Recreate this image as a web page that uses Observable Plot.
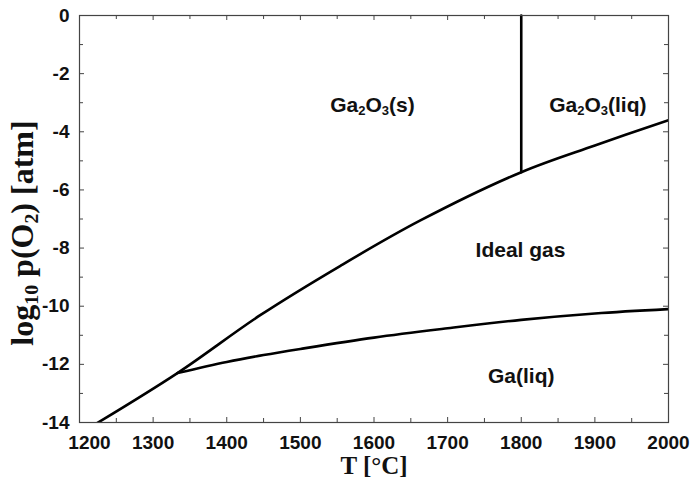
<!DOCTYPE html>
<html>
<head>
<meta charset="utf-8">
<script src="https://cdn.jsdelivr.net/npm/d3@7"></script>
<script src="https://cdn.jsdelivr.net/npm/@observablehq/plot@0.6"></script>
<style>
  html, body { margin: 0; padding: 0; background: #fff; }
  #chart { width: 691px; height: 488px; }
</style>
</head>
<body>
<div id="chart"></div>
<script>
// Upper boundary: Ga2O3 / gas (T in °C, log10 pO2)
const upperT = [1222, 1333, 1446, 1555, 1663, 1800, 1900, 2000];
const upperP = [-14.05, -12.3, -10.3, -8.6, -7.05, -5.39, -4.47, -3.6];
// Lower boundary: gas / Ga(liq)
const lowerT = [1333, 1400, 1450, 1500, 1600, 1700, 1800, 1900, 2000];
const lowerP = [-12.3, -11.92, -11.68, -11.47, -11.08, -10.76, -10.47, -10.25, -10.1];
// Melting line of Ga2O3
const meltT = [1800, 1800];
const meltP = [-5.39, 0];
// Region labels
const labelText = ["Ga2O3(s)", "Ga2O3(liq)", "Ideal gas", "Ga(liq)"];
const labelT = [1598, 1904, 1799, 1800];
const labelP = [-3.1, -3.1, -8.08, -12.42];
// Axis ticks
const xMajor = [1200, 1300, 1400, 1500, 1600, 1700, 1800, 1900, 2000];
const xMinor = [1250, 1350, 1450, 1550, 1650, 1750, 1850, 1950];
const yMajor = [-14, -12, -10, -8, -6, -4, -2, 0];
const yMinor = [-13, -11, -9, -7, -5, -3, -1];
const xTitle = "T [°C]";
const yTitle = "log10 p(O2) [atm]";

const W = 691, H = 488;
const mL = 79, mT = 15, mR = 23, mB = 66;
const pw = W - mL - mR, ph = H - mT - mB;

const upper = upperT.map((t, i) => ({T: t, p: upperP[i]}));
const lower = lowerT.map((t, i) => ({T: t, p: lowerP[i]}));
const melt = meltT.map((t, i) => ({T: t, p: meltP[i]}));
const labels = labelText.map((s, i) => ({s, T: labelT[i], p: labelP[i]}));

const sans = "'Liberation Sans', Arial, sans-serif";
const serif = "'Liberation Serif', 'Times New Roman', serif";
const frameColor = "#444";
const tickFont = {fontSize: 19, fontWeight: "bold", fill: "#111", letterSpacing: "0.5px"};

const plot = Plot.plot({
  width: W, height: H,
  marginLeft: mL, marginTop: mT, marginRight: mR, marginBottom: mB,
  style: {fontFamily: sans, background: "#fff", overflow: "visible"},
  x: {domain: [1200, 2000]},
  y: {domain: [-14, 0]},
  marks: [
    // inward ticks on all sides
    Plot.tickX(xMajor, {x: d => d, insetTop: ph - 5, stroke: frameColor}),
    Plot.tickX(xMinor, {x: d => d, insetTop: ph - 4, stroke: frameColor}),
    Plot.tickX(xMajor, {x: d => d, insetBottom: ph - 5, stroke: frameColor}),
    Plot.tickX(xMinor, {x: d => d, insetBottom: ph - 4, stroke: frameColor}),
    Plot.tickY(yMajor, {y: d => d, insetRight: pw - 5, stroke: frameColor}),
    Plot.tickY(yMinor, {y: d => d, insetRight: pw - 4, stroke: frameColor}),
    Plot.tickY(yMajor, {y: d => d, insetLeft: pw - 5, stroke: frameColor}),
    Plot.tickY(yMinor, {y: d => d, insetLeft: pw - 4, stroke: frameColor}),
    Plot.axisX(xMajor.slice(1), {tickSize: 0, tickPadding: 13, ...tickFont, label: null, tickFormat: d => String(d)}),
    Plot.axisX(xMajor.slice(0, 1), {tickSize: 0, tickPadding: 13, dx: 10, ...tickFont, label: null, tickFormat: d => String(d)}),
    Plot.axisY(yMajor, {tickSize: 0, tickPadding: 10, ...tickFont, label: null, tickFormat: d => String(d)}),
    Plot.line(upper, {x: "T", y: "p", curve: "catmull-rom", stroke: "#000", strokeWidth: 2.6, clip: true}),
    Plot.line(lower, {x: "T", y: "p", curve: "catmull-rom", stroke: "#000", strokeWidth: 2.6, clip: true}),
    Plot.line(melt, {x: "T", y: "p", stroke: "#000", strokeWidth: 2.6}),
    Plot.frame({stroke: frameColor, strokeWidth: 1.2}),
    Plot.text(labels, {x: "T", y: "p", text: "s", fontSize: 21, fontWeight: "bold", fill: "#111", className: "sublbl"}),
    Plot.text([xTitle], {text: d => d, frameAnchor: "bottom", dy: 51, fontSize: 25, fontWeight: "bold", fontFamily: serif, fill: "#111"}),
    Plot.text([yTitle], {text: d => d, frameAnchor: "left", textAnchor: "middle", dx: -57, dy: 14, rotate: -90, fontSize: 32, fontWeight: "bold", fontFamily: serif, fill: "#111", className: "sublbl"})
  ]
});

// turn digits after letters into subscripts
plot.querySelectorAll("g.sublbl text").forEach(t => {
  const s = t.textContent;
  const parts = s.split(/([A-Za-z])(\d+)/);
  t.textContent = "";
  for (let i = 0; i < parts.length; i++) {
    if (parts[i] === "") continue;
    const ts = document.createElementNS("http://www.w3.org/2000/svg", "tspan");
    if (i % 3 === 2) {
      ts.setAttribute("baseline-shift", "-25%");
      ts.setAttribute("font-size", "62%");
    }
    ts.textContent = parts[i];
    t.appendChild(ts);
  }
});

document.getElementById("chart").appendChild(plot);
</script>
</body>
</html>
